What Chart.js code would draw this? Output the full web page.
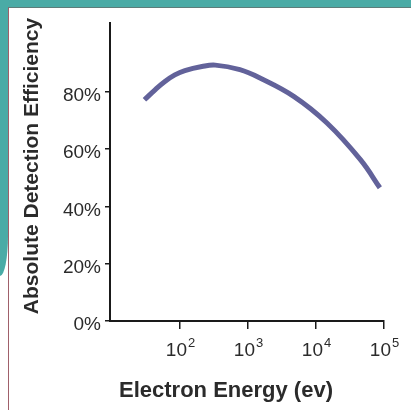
<!DOCTYPE html>
<html>
<head>
<meta charset="utf-8">
<script src="https://cdn.jsdelivr.net/npm/chart.js@4"></script>
<style>
html, body { margin: 0; padding: 0; background: #fff; }
#wrap { position: relative; width: 411px; height: 410px; overflow: hidden; }
#teal_top { position: absolute; left: 0; top: 0; width: 411px; height: 7px; background: #4aaba6; }
#teal_left { position: absolute; left: 0; top: 0; width: 8px; height: 276px; background: #4aaba6; border-bottom-right-radius: 8px 40px; }
#panel { position: absolute; left: 8px; top: 7px; right: 0; bottom: 0; border-top: 1px solid #5d7d7a; border-left: 1px solid #a0606a; background: #fff; }
canvas { position: absolute; left: 0; top: 0; }
</style>
</head>
<body>
<div id="wrap">
  <div id="teal_top"></div>
  <div id="teal_left"></div>
  <div id="panel"></div>
  <canvas id="chart" width="411" height="410"></canvas>
</div>
<script>
// values
var energies = [30, 43, 60, 84, 118, 210, 330, 760, 1500, 4700, 14500, 45000, 87000];
var efficiency = [77.2, 80.7, 83.6, 85.9, 87.4, 88.8, 89.3, 87.7, 84.8, 78.4, 69.1, 56.3, 46.5];
var xTickValues = [100, 1000, 10000, 100000];
var xTickExponents = ['2', '3', '4', '5'];
var yTickValues = [0, 20, 40, 60, 80];

var textColor = '#2b2b2b';
var axisColor = '#1a1a1a';
var fontName = '"Liberation Sans", Arial, Helvetica, sans-serif';

// x tick labels with raised exponents and the two axis titles
var handLabels = {
    id: 'hand_labels',
    afterDraw: function(chart) {
        var ctx = chart.ctx;
        var xs = chart.scales.x;
        var area = chart.chartArea;
        ctx.save();
        ctx.fillStyle = textColor;
        ctx.textBaseline = 'alphabetic';
        xTickValues.forEach(function(v, i) {
            var px = xs.getPixelForValue(v);
            ctx.font = '19px ' + fontName;
            ctx.textAlign = 'right';
            ctx.fillText('10', px + 7, area.bottom + 35);
            ctx.font = '13px ' + fontName;
            ctx.textAlign = 'left';
            ctx.fillText(xTickExponents[i], px + 8, area.bottom + 26);
        });

        ctx.font = 'bold 22px ' + fontName;
        ctx.textAlign = 'center';
        ctx.fillText('Electron Energy (ev)', 226, 397);

        ctx.translate(38, 166);
        ctx.rotate(-Math.PI / 2);
        ctx.font = 'bold 21px ' + fontName;
        ctx.fillText('Absolute Detection Efficiency', 0, 0);
        ctx.restore();
    }
};

var points = energies.map(function(e, i) {
    return {x: e, y: efficiency[i]};
});

new Chart(document.getElementById('chart'), {
    type: 'line',
    data: {
        datasets: [{
            data: points,
            borderColor: '#62629a',
            borderWidth: 5,
            pointRadius: 0,
            tension: 0.4,
            fill: false
        }]
    },
    options: {
        responsive: false,
        animation: false,
        layout: { padding: { top: 23, right: 27, left: 0, bottom: 0 } },
        plugins: {
            legend: { display: false },
            tooltip: { enabled: false }
        },
        scales: {
            x: {
                type: 'logarithmic',
                bounds: 'data',
                min: 9.35,
                max: 100000,
                afterBuildTicks: function(s) {
                    s.ticks = xTickValues.map(function(v) { return {value: v}; });
                },
                afterFit: function(s) { s.height = 89; },
                ticks: { display: false },
                grid: { drawOnChartArea: false, tickLength: 8, color: axisColor, lineWidth: 1.5 },
                border: { color: axisColor, width: 2 }
            },
            y: {
                min: 0,
                max: 104,
                afterBuildTicks: function(s) {
                    s.ticks = yTickValues.map(function(v) { return {value: v}; });
                },
                afterFit: function(s) { s.width = 110; },
                ticks: {
                    callback: function(v) { return v + '%'; },
                    font: { family: fontName, size: 19 },
                    color: textColor,
                    padding: 4,
                    labelOffset: 4
                },
                grid: { drawOnChartArea: false, tickLength: 5, color: axisColor, lineWidth: 1.5 },
                border: { color: axisColor, width: 2 }
            }
        }
    },
    plugins: [handLabels]
});
</script>
</body>
</html>
